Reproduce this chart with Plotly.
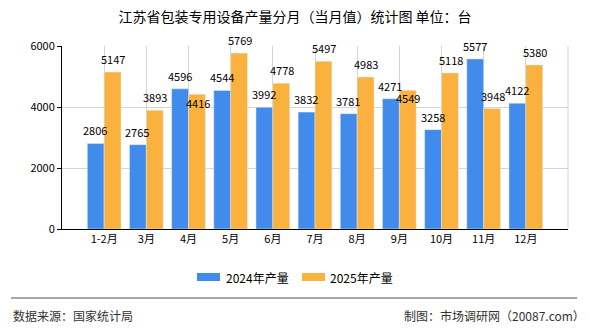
import plotly.graph_objects as go

categories = ["1-2月", "3月", "4月", "5月", "6月", "7月", "8月", "9月", "10月", "11月", "12月"]
prod_2024 = [2806, 2765, 4596, 4544, 3992, 3832, 3781, 4271, 3258, 5577, 4122]
prod_2025 = [5147, 3893, 4416, 5769, 4778, 5497, 4983, 4549, 5118, 3948, 5380]
y_ticks = [0, 2000, 4000, 6000]
series_names = ["2024年产量", "2025年产量"]

# label vertical offsets in px (collision avoidance in the reference)
shift_2024 = [13] * 11
shift_2025 = [13, 13, -9, 13, 13, 13, 13, -8, 13, 13, 13]

BLUE = "#418BEC"
ORANGE = "#FBB13E"
FONT = "Noto Sans CJK SC"

fig = go.Figure()
fig.add_trace(go.Bar(name=series_names[0], x=categories, y=prod_2024, marker_color=BLUE))
fig.add_trace(go.Bar(name=series_names[1], x=categories, y=prod_2025, marker_color=ORANGE))

ann = []
for c, v, s in zip(categories, prod_2024, shift_2024):
    ann.append(dict(x=c, y=v, text=str(v), showarrow=False, xshift=-9, yshift=s,
                    font=dict(size=11, color="#000", family=FONT)))
for c, v, s in zip(categories, prod_2025, shift_2025):
    ann.append(dict(x=c, y=v, text=str(v), showarrow=False, xshift=9, yshift=s,
                    font=dict(size=11, color="#000", family=FONT)))

ann.append(dict(xref="paper", yref="paper", x=-0.1008, y=-0.475, xanchor="left", yanchor="middle",
                text="数据来源：国家统计局", showarrow=False, font=dict(size=12, color="#333", family=FONT)))
ann.append(dict(xref="paper", yref="paper", x=1.0375, y=-0.475, xanchor="right", yanchor="middle",
                text="制图：市场调研网（20087.com）", showarrow=False, font=dict(size=12, color="#333", family=FONT)))

# manual legend
legend_items = [(series_names[0], BLUE, 0.2668, 0.3123, 0.3202),
                (series_names[1], ORANGE, 0.4743, 0.5198, 0.5257)]
shapes = [dict(type="line", xref="paper", yref="paper", x0=-0.1008, x1=1.0178, y0=-0.377, y1=-0.377,
               line=dict(color="#888", width=1.5)),
          dict(type="line", xref="paper", yref="paper", x0=1, x1=1, y0=0, y1=1,
               line=dict(color="#d4d4d4", width=1))]
for name, col, x0, x1, xt in legend_items:
    shapes.append(dict(type="rect", xref="paper", yref="paper", x0=x0, x1=x1, y0=-0.2842, y1=-0.2404,
                       fillcolor=col, line=dict(width=0)))
    ann.append(dict(xref="paper", yref="paper", x=xt, y=-0.2623, xanchor="left", yanchor="middle",
                    text=name, showarrow=False, font=dict(size=12, color="#000", family=FONT)))

fig.update_layout(
    width=590, height=330,
    margin=dict(l=62, r=22, t=46, b=101),
    paper_bgcolor="white", plot_bgcolor="white",
    barmode="group", bargap=0.2, bargroupgap=0,
    title=dict(text="江苏省包装专用设备产量分月（当月值）统计图 单位：台", x=0.5, xanchor="center",
               y=1 - 17 / 330, yanchor="middle", font=dict(size=14, color="#000", family=FONT)),
    font=dict(family=FONT, size=11, color="#000"),
    showlegend=False,
    annotations=ann,
    shapes=shapes,
)
fig.update_xaxes(range=[-1, 11], showgrid=True, gridcolor="#d4d4d4", showline=True, linecolor="#000",
                 linewidth=1, mirror=False, ticks="", tickfont=dict(size=11, color="#000"))
fig.update_yaxes(range=[0, 6000], tickvals=y_ticks, showgrid=True, gridcolor="#d4d4d4", showline=True,
                 linecolor="#000", linewidth=1, ticks="outside", ticklen=4, tickcolor="#000",
                 tickfont=dict(size=11, color="#000"), zeroline=False)

fig.write_html("out.html")
